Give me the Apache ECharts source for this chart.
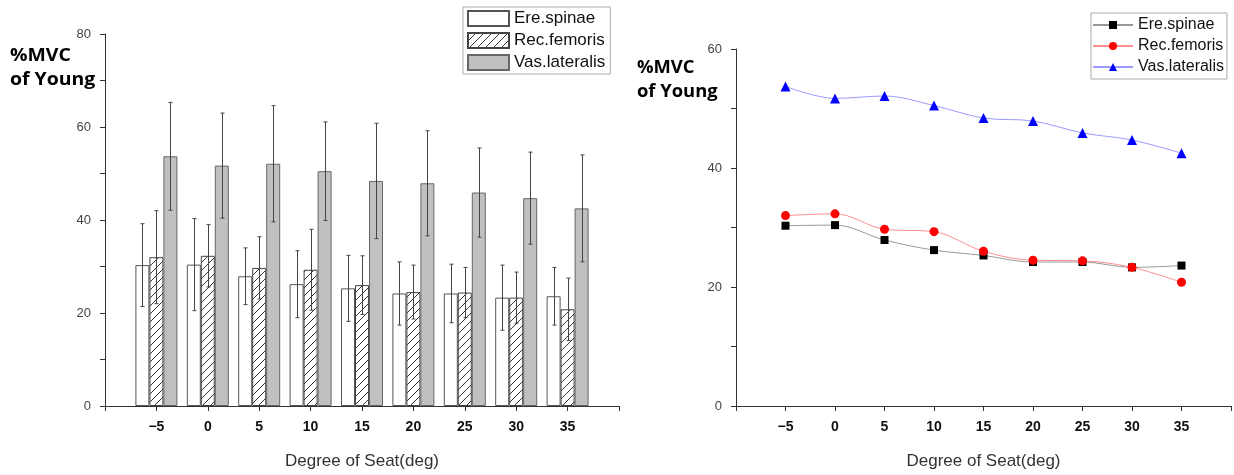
<!DOCTYPE html>
<html>
<head>
<meta charset="utf-8">
<script src="https://cdn.jsdelivr.net/npm/echarts@6/dist/echarts.min.js"></script>
<style>
  html, body { margin: 0; padding: 0; background: #fff; }
  #chart { width: 1234px; height: 475px; }
</style>
</head>
<body>
<div id="chart"></div>
<script>
// Seat angle (deg) for each measurement
const degrees = [-5, 0, 5, 10, 15, 20, 25, 30, 35];

// Mean %MVC per muscle
const ereSpinae   = [30.3, 30.4, 27.9, 26.2, 25.3, 24.2, 24.2, 23.3, 23.6];
const recFemoris  = [32.0, 32.3, 29.7, 29.3, 26.0, 24.5, 24.4, 23.3, 20.8];
const vasLateralis = [53.7, 51.7, 52.1, 50.5, 48.4, 47.9, 45.9, 44.7, 42.5];

// Standard deviations
const ereSpinaeSd   = [8.9, 9.9, 6.1, 7.2, 7.1, 6.8, 6.3, 7.0, 6.2];
const recFemorisSd  = [10.0, 6.7, 6.7, 8.7, 6.3, 5.8, 5.4, 5.5, 6.7];
const vasLateralisSd = [11.6, 11.3, 12.5, 10.6, 12.4, 11.3, 9.6, 9.9, 11.5];

const seriesNames = ['Ere.spinae', 'Rec.femoris', 'Vas.lateralis'];

const BAR_W = 14;
const FONT = '"Liberation Sans", Arial, sans-serif';
const TITLE_FONT = '"Open Sans", sans-serif';

// diagonal "////" fill for the hatched bars
function hatchPattern() {
  const s = 8;
  const c = document.createElement('canvas');
  c.width = s; c.height = s;
  const g = c.getContext('2d');
  g.fillStyle = '#fff';
  g.fillRect(0, 0, s, s);
  g.strokeStyle = '#333';
  g.lineWidth = 1;
  g.beginPath();
  g.moveTo(0, s); g.lineTo(s, 0);
  g.moveTo(-1, 1); g.lineTo(1, -1);
  g.moveTo(s - 1, s + 1); g.lineTo(s + 1, s - 1);
  g.stroke();
  return c;
}

function pairs(values) {
  return degrees.map((d, i) => [d, values[i]]);
}

function errorSeries(means, sds, offset) {
  return {
    type: 'custom',
    xAxisIndex: 0,
    yAxisIndex: 0,
    z: 10,
    silent: true,
    encode: { x: 0, y: [1, 2] },
    data: degrees.map((d, i) => [d, means[i] - sds[i], means[i] + sds[i]]),
    renderItem: function (params, api) {
      const hi = api.coord([api.value(0), api.value(2)]);
      const lo = api.coord([api.value(0), api.value(1)]);
      const x = Math.round(hi[0] + offset) + 0.5;
      const style = { stroke: '#444', lineWidth: 1 };
      return {
        type: 'group',
        children: [
          { type: 'line', shape: { x1: x, y1: hi[1], x2: x, y2: lo[1] }, style: style },
          { type: 'line', shape: { x1: x - 2, y1: hi[1], x2: x + 2, y2: hi[1] }, style: style },
          { type: 'line', shape: { x1: x - 2, y1: lo[1], x2: x + 2, y2: lo[1] }, style: style }
        ]
      };
    }
  };
}

function xAxis(gridIndex) {
  return {
    type: 'value',
    gridIndex: gridIndex,
    min: -10,
    max: 40,
    interval: 5,
    name: 'Degree of Seat(deg)',
    nameLocation: 'middle',
    nameGap: 47,
    nameTextStyle: { fontFamily: FONT, fontSize: 17, color: '#333' },
    axisLine: { show: true, onZero: false, lineStyle: { color: '#333', width: 1 } },
    axisTick: { show: true, length: 5, lineStyle: { color: '#333' } },
    splitLine: { show: false },
    axisLabel: {
      margin: 14,
      fontFamily: FONT,
      fontSize: 14,
      fontWeight: 'bold',
      color: '#111',
      formatter: v => (v === -10 || v === 40) ? '' : String(v).replace('-', '\u2212')
    }
  };
}

function yAxis(gridIndex, max) {
  return {
    type: 'value',
    gridIndex: gridIndex,
    min: 0,
    max: max,
    interval: 10,
    axisLine: { show: true, onZero: false, lineStyle: { color: '#333', width: 1 } },
    axisTick: { show: true, length: 5, lineStyle: { color: '#333' } },
    splitLine: { show: false },
    axisLabel: {
      margin: 14,
      fontFamily: FONT,
      fontSize: 13,
      color: '#444',
      formatter: v => (v % 20 === 0 ? String(v) : '')
    }
  };
}

function axisTitle(left, top, size) {
  return {
    type: 'text', left: left, top: top,
    scaleX: 1.08,
    style: {
      text: '%MVC\nof Young',
      fontFamily: TITLE_FONT,
      fontWeight: 'bold',
      fontSize: size,
      lineHeight: 24,
      fill: '#000'
    }
  };
}

const chart = echarts.init(document.getElementById('chart'), null, { renderer: 'canvas' });

const hatch = { image: hatchPattern(), repeat: 'repeat' };

const option = {
  animation: false,
  backgroundColor: '#fff',
  grid: [
    { left: 105, right: 615, top: 34, bottom: 58, containLabel: false },
    { left: 736, right: -4, top: 49, bottom: 57, containLabel: false }
  ],
  xAxis: [xAxis(0), xAxis(1)],
  yAxis: [yAxis(0, 80), yAxis(1, 60)],
  legend: [
    {
      orient: 'vertical',
      left: 463,
      top: 7,
      padding: [3, 5, 3, 4],
      itemGap: 5,
      itemWidth: 41,
      itemHeight: 15,
      borderColor: '#aaa',
      borderWidth: 1,
      backgroundColor: '#fff',
      textStyle: { fontFamily: FONT, fontSize: 17, color: '#111' },
      data: seriesNames.map(n => ({ name: n, icon: 'rect' })),
      selectedMode: false
    },
    {
      orient: 'vertical',
      left: 1091,
      top: 13,
      padding: [4, 3, 4, 1],
      itemGap: 5,
      itemWidth: 40,
      itemHeight: 10,
      borderColor: '#aaa',
      borderWidth: 1,
      backgroundColor: '#fff',
      textStyle: { fontFamily: FONT, fontSize: 16, color: '#111' },
      data: seriesNames.map(n => n + ' '),
      formatter: n => n.trim(),
      selectedMode: false
    }
  ],
  graphic: [axisTitle(10, 44, 18), axisTitle(637, 56, 17)],
  series: [
    {
      name: seriesNames[0], type: 'bar', xAxisIndex: 0, yAxisIndex: 0,
      barWidth: BAR_W, barGap: '0%',
      itemStyle: { color: '#fff', borderColor: '#555', borderWidth: 1 },
      data: pairs(ereSpinae)
    },
    {
      name: seriesNames[1], type: 'bar', xAxisIndex: 0, yAxisIndex: 0,
      barWidth: BAR_W, barGap: '0%',
      itemStyle: { color: hatch, borderColor: '#444', borderWidth: 1 },
      data: pairs(recFemoris)
    },
    {
      name: seriesNames[2], type: 'bar', xAxisIndex: 0, yAxisIndex: 0,
      barWidth: BAR_W, barGap: '0%',
      itemStyle: { color: '#c0c0c0', borderColor: '#666', borderWidth: 1 },
      data: pairs(vasLateralis)
    },
    errorSeries(ereSpinae, ereSpinaeSd, -BAR_W),
    errorSeries(recFemoris, recFemorisSd, 0),
    errorSeries(vasLateralis, vasLateralisSd, BAR_W),
    {
      name: seriesNames[0] + ' ', type: 'line', xAxisIndex: 1, yAxisIndex: 1,
      smooth: 0.35, symbol: 'rect', symbolSize: 8,
      itemStyle: { color: '#000' },
      lineStyle: { color: '#999', width: 1 },
      data: pairs(ereSpinae)
    },
    {
      name: seriesNames[1] + ' ', type: 'line', xAxisIndex: 1, yAxisIndex: 1,
      smooth: 0.35, symbol: 'circle', symbolSize: 9,
      itemStyle: { color: '#ff0000' },
      lineStyle: { color: '#ff9090', width: 1 },
      data: pairs(recFemoris)
    },
    {
      name: seriesNames[2] + ' ', type: 'line', xAxisIndex: 1, yAxisIndex: 1,
      smooth: 0.35, symbol: 'triangle', symbolSize: 10,
      itemStyle: { color: '#0000ff' },
      lineStyle: { color: '#9a9aff', width: 1 },
      data: pairs(vasLateralis)
    }
  ]
};

chart.setOption(option);
</script>
</body>
</html>
